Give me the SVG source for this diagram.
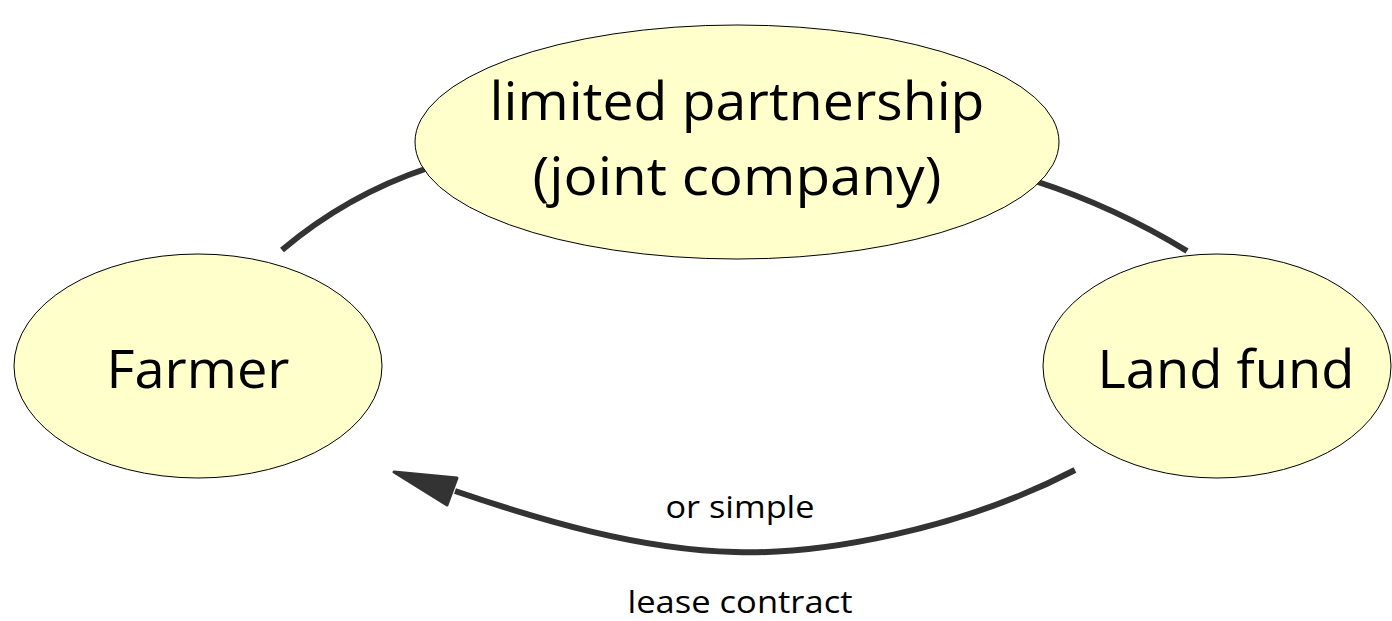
<svg xmlns="http://www.w3.org/2000/svg" width="1392" height="621" viewBox="0 0 1392 621">
<style>
.node{fill:#ffffcc;stroke:#000;stroke-width:1}
.big{font-family:"Open Sans","Liberation Sans",sans-serif;font-size:53px;fill:#000;text-anchor:middle}
.small{font-family:"Open Sans","Liberation Sans",sans-serif;font-size:31px;fill:#000;text-anchor:middle}
.conn{fill:none;stroke:#333;stroke-width:6}
.head{fill:#333;stroke:#333;stroke-width:3;stroke-linejoin:round}
</style>
<rect width="1392" height="621" fill="#fff"/>
<g id="connectors">
<path class="conn" d="M282,250 Q347,195 428,168"/>
<path class="conn" d="M1035,181 Q1115,207 1187,251"/>
<path class="conn" d="M1075,470 C960,530 820,555 735,552 C640,550 540,520 455,491"/>
<path class="head" d="M394,472 L457,478 L447,505 Z"/>
</g>
<g id="node-partnership">
<ellipse class="node" cx="737" cy="142" rx="322" ry="117"/>
<text class="big" x="737" y="120" textLength="495" lengthAdjust="spacingAndGlyphs">limited partnership</text>
<text class="big" x="737" y="195" textLength="409" lengthAdjust="spacingAndGlyphs">(joint company)</text>
</g>
<g id="node-farmer">
<ellipse class="node" cx="198" cy="366" rx="184" ry="112"/>
<text class="big" x="198" y="388" textLength="183" lengthAdjust="spacingAndGlyphs">Farmer</text>
</g>
<g id="node-landfund">
<ellipse class="node" cx="1217" cy="366" rx="174" ry="112"/>
<text class="big" x="1226" y="388" textLength="257" lengthAdjust="spacingAndGlyphs">Land fund</text>
</g>
<g id="label">
<text class="small" x="740" y="518" textLength="149" lengthAdjust="spacingAndGlyphs">or simple</text>
<text class="small" x="740" y="613" textLength="225" lengthAdjust="spacingAndGlyphs">lease contract</text>
</g>
</svg>
